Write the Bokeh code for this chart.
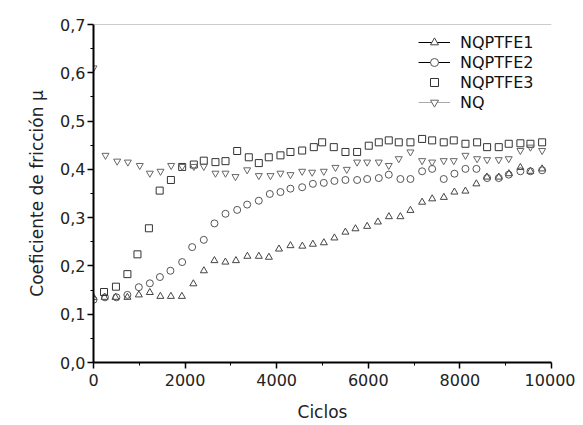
from bokeh.plotting import figure
from bokeh.models import Range1d, FixedTicker, Span, Legend, LegendItem, ColumnDataSource
from bokeh.embed import file_html
from bokeh.resources import INLINE

# ---- data ----
ciclos_1 = [0, 240, 480, 740, 990, 1230, 1460, 1690, 1930, 2180, 2410, 2640, 2880, 3110,
            3360, 3610, 3830, 4050, 4300, 4560, 4790, 5030, 5260, 5500, 5720, 5975, 6210,
            6450, 6700, 6920, 7175, 7395, 7650, 7880, 8120, 8360, 8590, 8850, 9070, 9320,
            9540, 9795]
mu_1 = [0.135, 0.135, 0.135, 0.135, 0.140, 0.145, 0.137, 0.137, 0.137, 0.163, 0.190, 0.211,
        0.208, 0.211, 0.220, 0.220, 0.218, 0.235, 0.242, 0.241, 0.245, 0.248, 0.258, 0.270,
        0.277, 0.282, 0.291, 0.302, 0.302, 0.315, 0.332, 0.339, 0.342, 0.353, 0.355, 0.370,
        0.384, 0.384, 0.391, 0.404, 0.396, 0.401]

ciclos_2 = [0, 250, 500, 740, 990, 1230, 1450, 1680, 1936, 2154, 2408, 2641, 2882, 3137,
            3355, 3609, 3849, 4082, 4300, 4556, 4790, 5028, 5260, 5501, 5756, 5975, 6229,
            6447, 6701, 6920, 7175, 7394, 7647, 7881, 8121, 8361, 8594, 8848, 9066, 9321,
            9540, 9795]
mu_2 = [0.130, 0.135, 0.135, 0.140, 0.156, 0.164, 0.177, 0.190, 0.208, 0.239, 0.254, 0.288,
        0.308, 0.316, 0.327, 0.335, 0.349, 0.353, 0.360, 0.363, 0.370, 0.372, 0.376, 0.378,
        0.378, 0.380, 0.382, 0.389, 0.380, 0.380, 0.396, 0.401, 0.380, 0.391, 0.401, 0.401,
        0.382, 0.382, 0.389, 0.396, 0.396, 0.398]

ciclos_3 = [230, 490, 740, 960, 1210, 1445, 1690, 1936, 2190, 2408, 2663, 2882, 3137, 3391,
            3609, 3827, 4082, 4300, 4556, 4810, 4992, 5246, 5501, 5756, 6010, 6229, 6447,
            6665, 6920, 7175, 7394, 7647, 7866, 8121, 8376, 8594, 8848, 9066, 9321, 9540,
            9795]
mu_3 = [0.146, 0.157, 0.183, 0.224, 0.278, 0.356, 0.378, 0.405, 0.410, 0.418, 0.415, 0.417,
        0.438, 0.425, 0.413, 0.425, 0.429, 0.436, 0.439, 0.446, 0.456, 0.446, 0.436, 0.436,
        0.449, 0.456, 0.460, 0.456, 0.456, 0.463, 0.460, 0.456, 0.460, 0.453, 0.456, 0.446,
        0.446, 0.453, 0.454, 0.453, 0.456]

ciclos_nq = [0, 262, 517, 750, 1010, 1230, 1463, 1696, 1936, 2190, 2408, 2663, 2882, 3100,
             3355, 3609, 3864, 4082, 4300, 4556, 4774, 5028, 5283, 5530, 5756, 5975, 6229,
             6447, 6665, 6920, 7175, 7394, 7647, 7866, 8121, 8376, 8594, 8848, 9066, 9321,
             9540, 9795]
mu_nq = [0.610, 0.429, 0.417, 0.415, 0.408, 0.392, 0.396, 0.408, 0.406, 0.406, 0.406, 0.392,
         0.392, 0.385, 0.399, 0.387, 0.387, 0.392, 0.389, 0.396, 0.394, 0.396, 0.404, 0.400,
         0.415, 0.415, 0.415, 0.408, 0.422, 0.436, 0.418, 0.415, 0.418, 0.418, 0.429, 0.422,
         0.420, 0.420, 0.422, 0.439, 0.446, 0.439]

series_names = ["NQPTFE1", "NQPTFE2", "NQPTFE3", "NQ"]

x_ticks = [0, 2000, 4000, 6000, 8000, 10000]
x_minor = [1000, 3000, 5000, 7000, 9000]
y_ticks = [0.0, 0.1, 0.2, 0.3, 0.4, 0.5, 0.6, 0.7]
y_tick_labels = ["0,0", "0,1", "0,2", "0,3", "0,4", "0,5", "0,6", "0,7"]
y_minor = [0.05, 0.15, 0.25, 0.35, 0.45, 0.55, 0.65]

FONT = "DejaVu Sans"

p = figure(width=575, height=424, output_backend="svg", toolbar_location=None,
           x_range=Range1d(0, 10000), y_range=Range1d(0, 0.7),
           min_border_left=93, min_border_right=24, min_border_top=24, min_border_bottom=55)
p.outline_line_color = None
p.xgrid.visible = False
p.ygrid.visible = False
p.background_fill_color = "white"

p.xaxis.ticker = FixedTicker(ticks=x_ticks, minor_ticks=x_minor)
p.yaxis.ticker = FixedTicker(ticks=y_ticks, minor_ticks=y_minor)
p.yaxis.major_label_overrides = {t: l for t, l in zip(y_ticks, y_tick_labels)}

for ax in (p.xaxis[0], p.yaxis[0]):
    ax.axis_line_width = 2
    ax.axis_line_color = "black"
    ax.major_tick_line_color = "black"
    ax.major_tick_line_width = 1.5
    ax.minor_tick_line_color = "black"
    ax.minor_tick_line_width = 1
    ax.major_tick_in = 0
    ax.major_tick_out = 6
    ax.minor_tick_in = 0
    ax.minor_tick_out = 3
    ax.major_label_text_font = FONT
    ax.major_label_text_font_size = "16px"
    ax.major_label_text_color = "#222222"
    ax.axis_label_text_font = FONT
    ax.axis_label_text_font_size = "17px"
    ax.axis_label_text_font_style = "normal"
    ax.axis_label_text_color = "#222222"

p.xaxis.axis_label = "Ciclos"
p.yaxis.axis_label = "Coeficiente de fricción μ"
p.xaxis.major_label_standoff = 5
p.xaxis.axis_label_standoff = 13
p.yaxis.major_label_standoff = 2
p.yaxis.axis_label_standoff = 10

p.add_layout(Span(location=0.7, dimension="width", line_color="#999999", line_width=1))

styles = [
    (ciclos_1, mu_1, "triangle", "#444444", "black", 6),
    (ciclos_2, mu_2, "circle", "#555555", "black", 6),
    (ciclos_3, mu_3, "square", "#333333", None, 5),
    (ciclos_nq, mu_nq, "inverted_triangle", "#666666", "#aaaaaa", 6),
]

nan = float("nan")
items = []
for name, (xs, ys, marker, mcol, lcol, lsize) in zip(series_names, styles):
    src = ColumnDataSource(dict(x=xs, y=ys))
    p.scatter("x", "y", source=src, marker=marker, size=7, fill_color=None,
              line_color=mcol, line_width=1)
    dummy = ColumnDataSource(dict(x=[nan], y=[nan]))
    rends = []
    if lcol is not None:
        rends.append(p.line("x", "y", source=dummy, line_color=lcol, line_width=1))
    rends.append(p.scatter("x", "y", source=dummy, marker=marker, size=lsize,
                           fill_color="white", line_color=mcol, line_width=1))
    items.append(LegendItem(label=name, renderers=rends))

legend = Legend(items=items, location=(325, 250), border_line_color=None,
                background_fill_alpha=0, label_text_font=FONT, label_text_font_size="16px",
                label_text_color="#111111", glyph_width=32, glyph_height=20, label_height=20,
                spacing=0, padding=0, margin=0, label_standoff=10)
p.add_layout(legend)

open("out.html", "w").write(file_html(p, INLINE))
